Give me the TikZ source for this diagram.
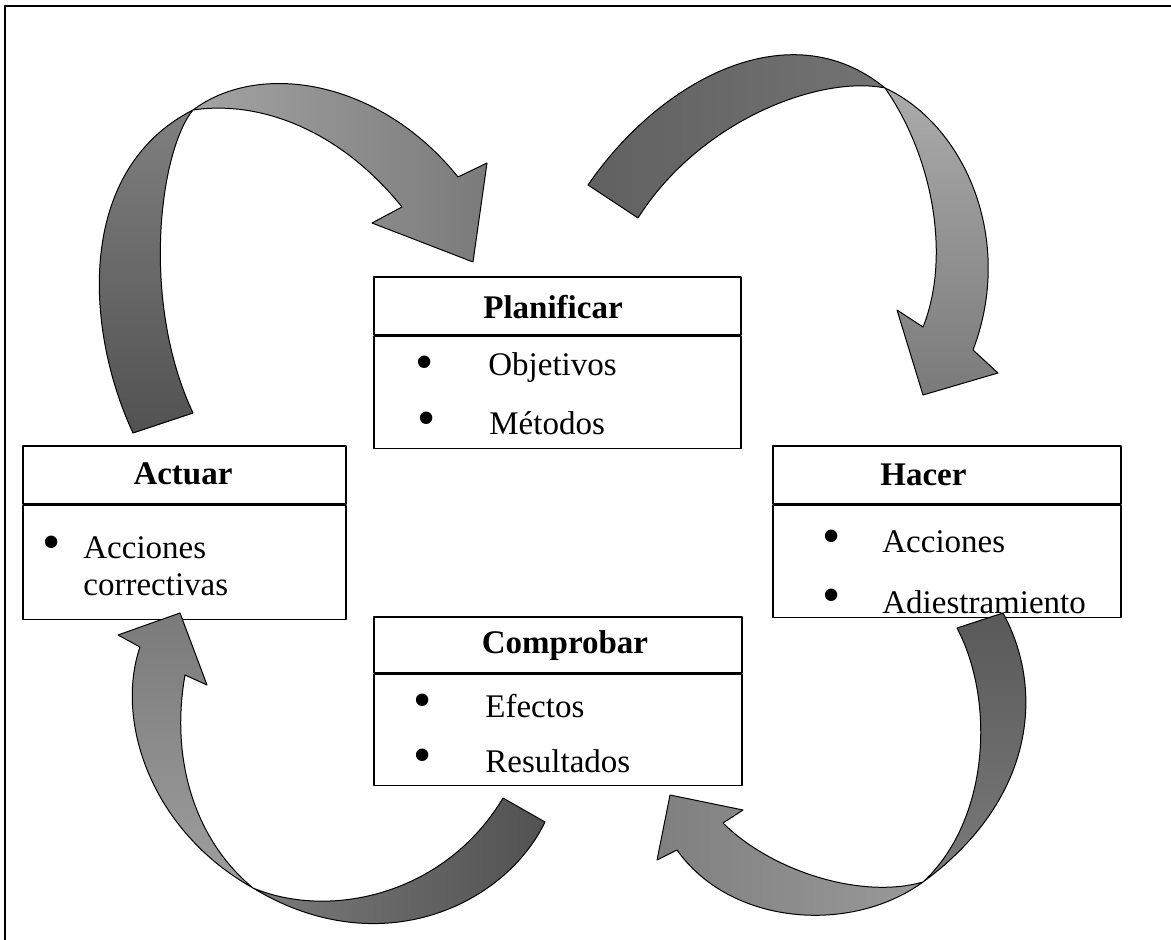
\documentclass[tikz,border=0pt]{standalone}
\usepackage{fontspec}
\setmainfont{Liberation Serif}
\usepackage{tikz}
\usetikzlibrary{positioning}

\begin{document}
\begin{tikzpicture}[x=0.5pt,y=-0.5pt,line join=round,
  font=\fontsize{16.5pt}{20pt}\selectfont,
  head node/.style={rectangle,draw,fill=white,line width=0.8pt,anchor=north west,inner sep=0pt,minimum height=29pt},
  body node/.style={rectangle,draw,fill=white,line width=0.8pt,inner sep=0pt,minimum height=56pt},
  title node/.style={inner sep=0pt,font=\fontsize{16.5pt}{20pt}\selectfont\bfseries},
  item node/.style={anchor=west,inner sep=0pt},
  dot node/.style={inner sep=0pt,font=\fontsize{26pt}{26pt}\selectfont},
  tail part/.style={draw=black,line width=0.5pt},
  head part/.style={draw=black,line width=0.5pt}]

  \useasboundingbox (0,0) rectangle (1171,940);
  \draw[line width=1.2pt] (5,940) -- (5,6) -- (1171,6);

  % boxes
  \node[head node,minimum width=183.5pt] (plan) at (373,276) {};
  \node[body node,minimum width=183.5pt,below right=0pt of plan.south west] (planbody) {};
  \node[head node,minimum width=161.5pt] (act) at (22,445) {};
  \node[body node,minimum width=161.5pt,minimum height=57pt,below right=0pt of act.south west] (actbody) {};
  \node[head node,minimum width=174pt] (hac) at (772,445) {};
  \node[body node,minimum width=174pt,below right=0pt of hac.south west] (hacbody) {};
  \node[head node,minimum width=184pt,minimum height=28pt] (comp) at (373,616) {};
  \node[body node,minimum width=184pt,minimum height=55.5pt,below right=0pt of comp.south west] (compbody) {};

  % titles
  \node[title node] (tplan) at (553,307) {Planificar};
  \node[title node] (tact) at (183,474) {Actuar};
  \node[title node,anchor=west] (thac) at (880,475) {Hacer};
  \node[title node] (tcomp) at (565,646) {Comprobar};

  % items
  \node[dot node] (d1) at (425,368) {\textbullet};
  \node[item node] (obj) at (488,368) {Objetivos};
  \node[dot node] (d2) at (427,424) {\textbullet};
  \node[item node] (met) at (489,423) {Métodos};
  \node[dot node] (d3) at (52,548) {\textbullet};
  \node[item node] (acc1) at (83,548) {Acciones};
  \node[item node] (corr) at (83,585) {correctivas};
  \node[dot node] (d4) at (832,542) {\textbullet};
  \node[item node] (acc2) at (882,542) {Acciones};
  \node[dot node] (d5) at (832,601) {\textbullet};
  \node[item node] (adi) at (882,602) {Adiestramiento};
  \node[dot node] (d6) at (423,706) {\textbullet};
  \node[item node] (efe) at (485,706) {Efectos};
  \node[dot node] (d7) at (423,761) {\textbullet};
  \node[item node] (res) at (485,761) {Resultados};

  % Actuar -> Planificar
  \draw[tail part,top color=black!50,bottom color=black!68]
    (133,433) .. controls (85,330) and (75,170) .. (193,110)
    .. controls (160,150) and (140,300) .. (193,413) -- cycle;
  \draw[head part,left color=black!36,right color=black!52]
    (193,110) .. controls (260,60) and (380,80) .. (458,177)
    -- (487,163) -- (473,262) -- (372,223) -- (402,207)
    .. controls (340,130) and (260,100) .. (193,110) -- cycle;

  % Planificar -> Hacer
  \draw[tail part,left color=black!62,right color=black!55]
    (588,185) .. controls (660,80) and (790,10) .. (885,88)
    .. controls (820,75) and (700,120) .. (638,218) -- cycle;
  \draw[head part,top color=black!33,bottom color=black!52]
    (885,88) .. controls (965,125) and (1015,240) .. (973,350)
    -- (998,373) -- (923,395) -- (897,310) -- (923,327)
    .. controls (950,260) and (935,160) .. (885,88) -- cycle;

  % Hacer -> Comprobar
  \draw[tail part,top color=black!65,bottom color=black!52]
    (1003,613) .. controls (1045,690) and (1035,800) .. (923,882)
    .. controls (990,820) and (995,700) .. (957,628) -- cycle;
  \draw[head part,left color=black!50,right color=black!40]
    (923,882) .. controls (850,935) and (730,925) .. (677,850)
    -- (657,860) -- (670,795) -- (743,810) -- (723,823)
    .. controls (770,870) and (860,900) .. (923,882) -- cycle;

  % Comprobar -> Actuar
  \draw[tail part,left color=black!52,right color=black!68]
    (545,822) .. controls (505,905) and (380,965) .. (253,888)
    .. controls (330,920) and (445,895) .. (503,798) -- cycle;
  \draw[head part,top color=black!52,bottom color=black!38]
    (253,888) .. controls (150,830) and (115,720) .. (140,647)
    -- (118,635) -- (180,613) -- (207,685) -- (185,675)
    .. controls (170,760) and (195,840) .. (253,888) -- cycle;

\end{tikzpicture}
\end{document}
